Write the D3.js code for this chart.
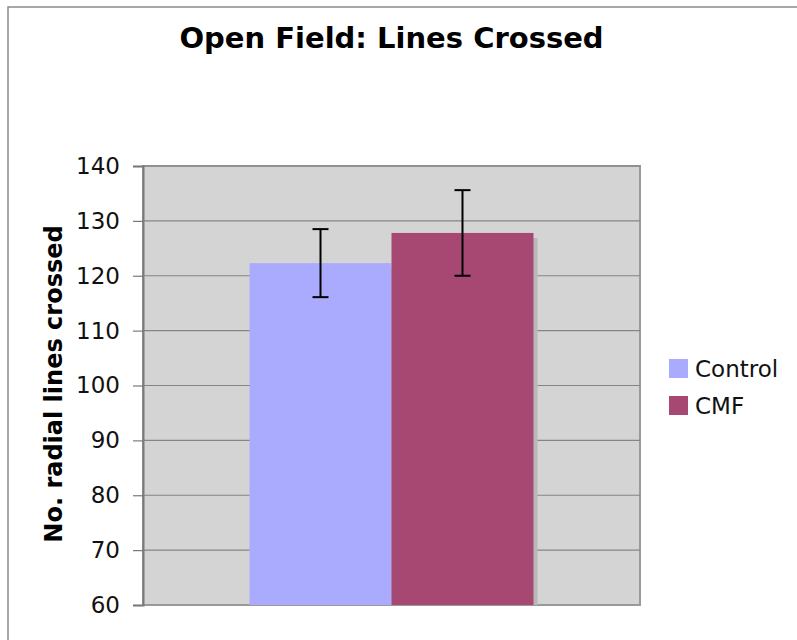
<!DOCTYPE html>
<html>
<head>
<meta charset="utf-8">
<script src="https://cdn.jsdelivr.net/npm/d3@7"></script>
<style>
  body { margin: 0; background: #fff; }
  text { font-family: "DejaVu Sans", Verdana, sans-serif; }
</style>
</head>
<body>
<script>
const w = 797;
const h = 640;

const title = "Open Field: Lines Crossed";
const yLabel = "No. radial lines crossed";
const series = ["Control", "CMF"];
const means = [122.3, 127.8];
const errors = [6.2, 7.8];
const colors = ["#aaaaff", "#a64872"];
const yTicks = [60, 70, 80, 90, 100, 110, 120, 130, 140];

const plot = { left: 143, right: 640, top: 166, bottom: 605 };

const svg = d3.select("body")
    .append("svg")
    .attr("width", w)
    .attr("height", h);

// outer chart frame (runs off the right/bottom edge)
svg.append("rect")
    .attr("x", 8)
    .attr("y", 7)
    .attr("width", w + 20)
    .attr("height", h + 20)
    .attr("fill", "#fff")
    .attr("stroke", "#8a8a8a")
    .attr("stroke-width", 1.5);

svg.append("text")
    .attr("x", (plot.left + plot.right) / 2)
    .attr("y", 48)
    .attr("text-anchor", "middle")
    .attr("font-size", 29)
    .attr("font-weight", "bold")
    .text(title);

const yScale = d3.scaleLinear()
    .domain([60, 140])
    .range([plot.bottom, plot.top]);

const xScale = d3.scaleBand()
    .domain(series)
    .range([plot.left, plot.right])
    .paddingInner(0)
    .paddingOuter(0.75);

// plot background
svg.append("rect")
    .attr("x", plot.left)
    .attr("y", plot.top)
    .attr("width", plot.right - plot.left)
    .attr("height", plot.bottom - plot.top)
    .attr("fill", "#d4d4d4")
    .attr("stroke", "#9a9a9a")
    .attr("stroke-width", 2);

// gridlines
svg.append("g")
    .selectAll("line")
    .data(yTicks.filter(d => d > 60))
    .join("line")
    .attr("x1", plot.left)
    .attr("x2", plot.right)
    .attr("y1", d => yScale(d))
    .attr("y2", d => yScale(d))
    .attr("stroke", "#858585")
    .attr("stroke-width", 1.2);

// bar shadows
svg.append("g")
    .selectAll("rect")
    .data(series)
    .join("rect")
    .attr("x", d => xScale(d) + 4)
    .attr("y", (d, i) => yScale(means[i]) + 5)
    .attr("width", xScale.bandwidth())
    .attr("height", (d, i) => plot.bottom - yScale(means[i]) - 5)
    .attr("fill", "#b8b8b8");

// bars
svg.append("g")
    .selectAll("rect")
    .data(series)
    .join("rect")
    .attr("x", d => xScale(d))
    .attr("y", (d, i) => yScale(means[i]))
    .attr("width", xScale.bandwidth())
    .attr("height", (d, i) => plot.bottom - yScale(means[i]))
    .attr("fill", (d, i) => colors[i]);

// y axis
const yAxis = d3.axisLeft(yScale)
    .tickValues(yTicks)
    .tickSize(10)
    .tickPadding(13);

const gy = svg.append("g")
    .attr("transform", "translate(" + plot.left + ", 0)")
    .call(yAxis);
gy.select(".domain").attr("stroke", "#7a7a7a").attr("stroke-width", 2);
gy.selectAll(".tick line").attr("stroke", "#7a7a7a").attr("stroke-width", 1.2);
gy.selectAll(".tick text")
    .attr("font-size", 23)
    .attr("font-family", "DejaVu Sans, Verdana, sans-serif")
    .attr("fill", "#111");

// error bars
const eb = svg.append("g")
    .attr("stroke", "#000")
    .attr("stroke-width", 2);
series.forEach((s, i) => {
    const cx = xScale(s) + xScale.bandwidth() / 2;
    const top = yScale(means[i] + errors[i]);
    const bot = yScale(means[i] - errors[i]);
    eb.append("line").attr("x1", cx).attr("x2", cx).attr("y1", top).attr("y2", bot);
    eb.append("line").attr("x1", cx - 8).attr("x2", cx + 8).attr("y1", top).attr("y2", top);
    eb.append("line").attr("x1", cx - 8).attr("x2", cx + 8).attr("y1", bot).attr("y2", bot);
});

// y axis title
svg.append("text")
    .attr("transform", "translate(62, 384) rotate(-90)")
    .attr("text-anchor", "middle")
    .attr("font-size", 24)
    .attr("font-weight", "bold")
    .text(yLabel);

// legend
const legend = svg.append("g")
    .selectAll("g")
    .data(series)
    .join("g")
    .attr("transform", (d, i) => "translate(669, " + (359 + i * 37) + ")");
legend.append("rect")
    .attr("width", 19)
    .attr("height", 19)
    .attr("fill", (d, i) => colors[i]);
legend.append("text")
    .attr("x", 26)
    .attr("y", 18)
    .attr("font-size", 23)
    .attr("fill", "#111")
    .text(d => d);
</script>
</body>
</html>
